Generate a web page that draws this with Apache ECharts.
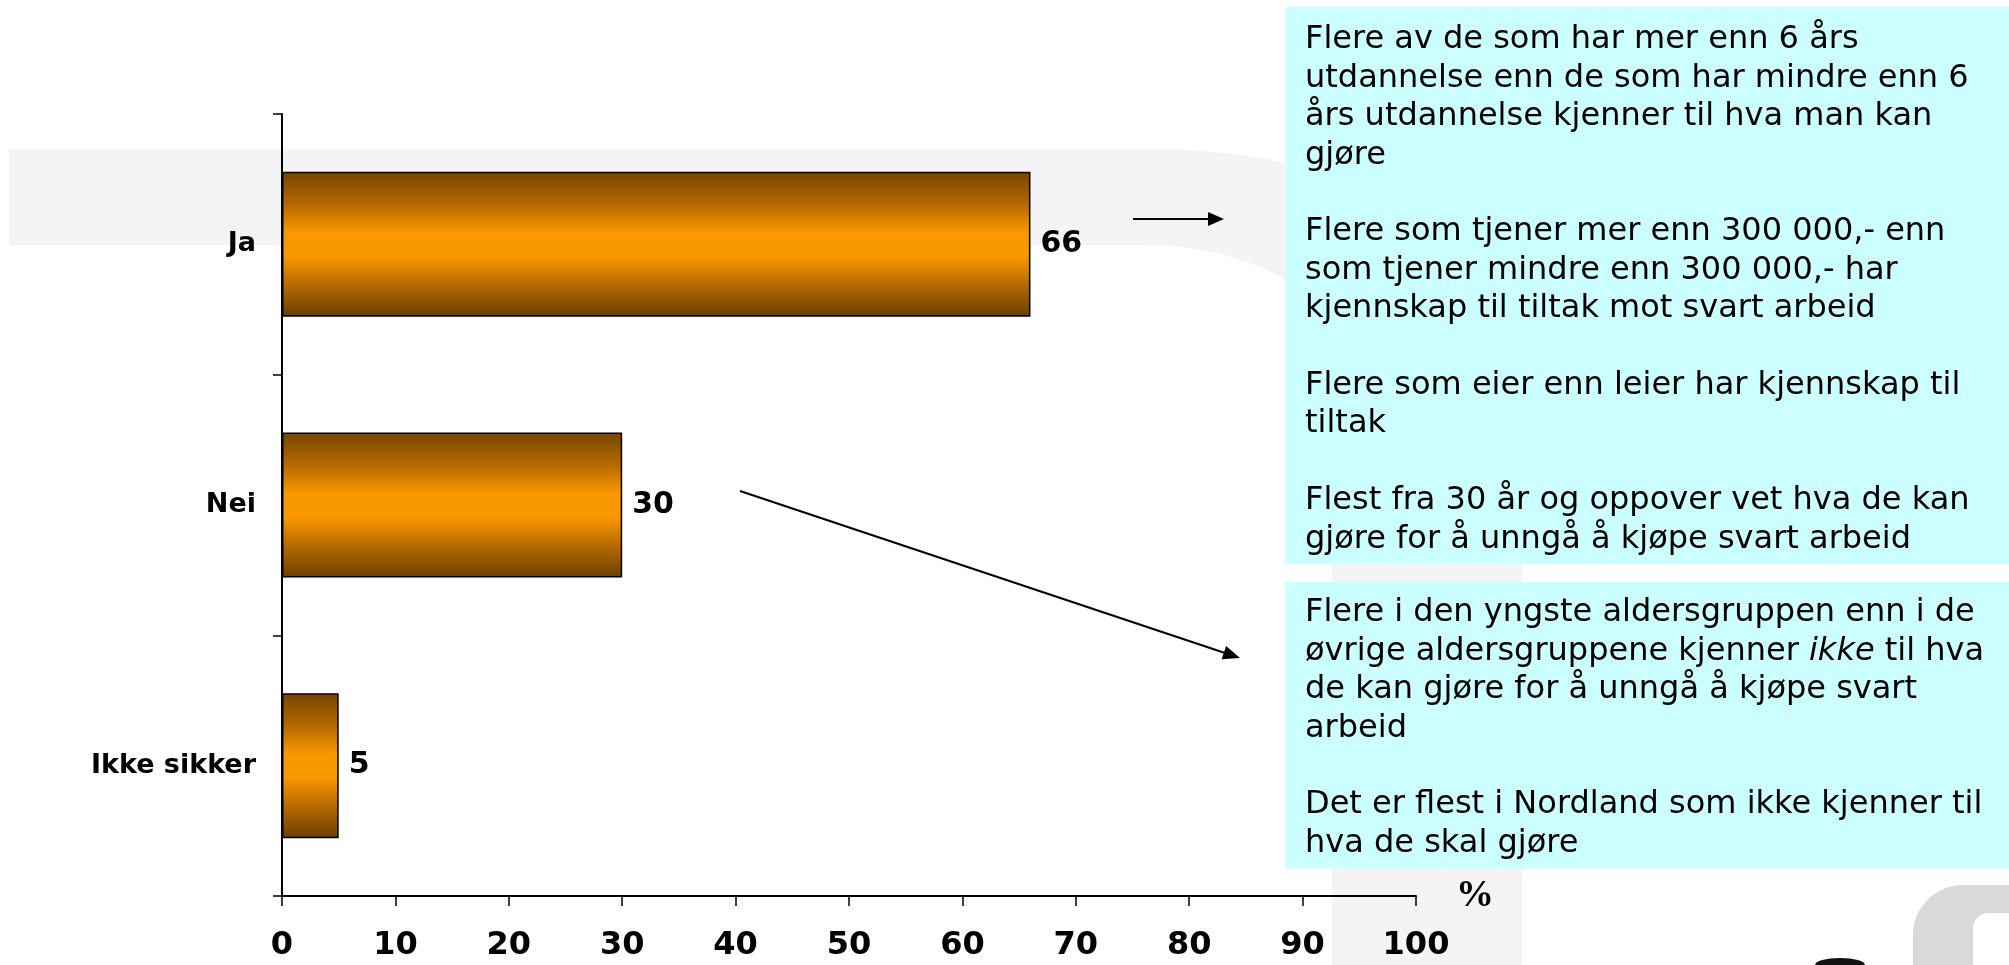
<!DOCTYPE html>
<html>
<head>
<meta charset="utf-8">
<script src="https://cdn.jsdelivr.net/npm/echarts@6/dist/echarts.min.js"></script>
<style>
  html, body { margin: 0; padding: 0; background: #ffffff; }
  #chart { width: 2009px; height: 965px; }
</style>
</head>
<body>
<div id="chart"></div>
<script>
// ---- data ----
const categories = ['Ja', 'Nei', 'Ikke sikker'];
const values = [66, 30, 5];
const xMin = 0, xMax = 100, xInterval = 10;
const axisUnit = '%';

const note1Lines = [
  'Flere av de som har mer enn 6 års',
  'utdannelse enn de som har mindre enn 6',
  'års utdannelse kjenner til hva man kan',
  'gjøre',
  '',
  'Flere som tjener mer enn 300 000,- enn',
  'som tjener mindre enn 300 000,- har',
  'kjennskap til tiltak mot svart arbeid',
  '',
  'Flere som eier enn leier har kjennskap til',
  'tiltak',
  '',
  'Flest fra 30 år og oppover vet hva de kan',
  'gjøre for å unngå å kjøpe svart arbeid'
];
const note2Lines = [
  'Flere i den yngste aldersgruppen enn i de',
  'øvrige aldersgruppene kjenner {it|ikke} til hva',
  'de kan gjøre for å unngå å kjøpe svart',
  'arbeid',
  '',
  'Det er flest i Nordland som ikke kjenner til',
  'hva de skal gjøre'
];

// ---- styling ----
const FONT = '"DejaVu Sans", Verdana, sans-serif';
const noteFont = 32;
const noteLH = 38.4;

const chart = echarts.init(document.getElementById('chart'), null, { renderer: 'canvas' });

const barGradient = {
  type: 'linear', x: 0, y: 0, x2: 0, y2: 1,
  colorStops: [
    { offset: 0, color: '#764500' },
    { offset: 0.22, color: '#b46800' },
    { offset: 0.42, color: '#fa9800' },
    { offset: 0.58, color: '#fa9800' },
    { offset: 0.80, color: '#b06600' },
    { offset: 1, color: '#6a3f00' }
  ]
};

function arrowHead(x1, y1, x2, y2, len, half) {
  const dx = x2 - x1, dy = y2 - y1;
  const d = Math.sqrt(dx * dx + dy * dy);
  const ux = dx / d, uy = dy / d;
  const bx = x2 - ux * len, by = y2 - uy * len;
  const px = -uy, py = ux;
  return [[x2, y2], [bx + px * half, by + py * half], [bx - px * half, by - py * half]];
}

// quarter-ellipse points (decorative background shape)
function quarter(cx, cy, rx, ry, a0, a1, n) {
  const pts = [];
  for (let i = 0; i <= n; i++) {
    const a = a0 + (a1 - a0) * i / n;
    pts.push([cx + rx * Math.cos(a), cy + ry * Math.sin(a)]);
  }
  return pts;
}
const watermarkPts = [[9, 149]]
  .concat(quarter(1150, 346, 372, 197, -Math.PI / 2, 0, 30))
  .concat([[1522, 965], [1332, 965]])
  .concat(quarter(1140, 344, 192, 99, 0, -Math.PI / 2, 30))
  .concat([[9, 245]]);
const logoPts = [[1913, 965]]
  .concat(quarter(1963, 935, 50, 50, Math.PI, Math.PI * 1.5, 16))
  .concat([[2009, 885], [2009, 913], [1988, 913]])
  .concat(quarter(1988, 928, 15, 15, -Math.PI / 2, -Math.PI, 10))
  .concat([[1973, 965]]);
const blobPts = [[1815, 965]]
  .concat(quarter(1840, 965, 25, 7, Math.PI, Math.PI * 2, 16));

const option = {
  backgroundColor: '#ffffff',
  animation: false,
  grid: { left: 282, right: 593, top: 114, bottom: 69, containLabel: false },
  xAxis: {
    type: 'value',
    min: xMin, max: xMax, interval: xInterval,
    name: axisUnit,
    nameLocation: 'end',
    nameGap: 40,
    nameTextStyle: {
      fontFamily: '"Liberation Serif", "Times New Roman", serif',
      fontWeight: 'bold', fontSize: 38, color: '#000',
      verticalAlign: 'middle', align: 'left'
    },
    axisLine: { show: true, lineStyle: { color: '#000', width: 2 } },
    axisTick: { show: true, length: 10, lineStyle: { color: '#000', width: 1.5 } },
    axisLabel: { fontFamily: FONT, fontWeight: 'bold', fontSize: 32, color: '#000', margin: 34 },
    splitLine: { show: false }
  },
  yAxis: {
    type: 'category',
    data: categories,
    inverse: true,
    axisLine: { show: true, lineStyle: { color: '#000', width: 2 } },
    axisTick: { show: true, length: 9, lineStyle: { color: '#000', width: 1.5 } },
    axisLabel: { fontFamily: FONT, fontWeight: 'bold', fontSize: 27, color: '#000', margin: 26 },
    splitLine: { show: false }
  },
  series: [{
    type: 'bar',
    data: values,
    barWidth: '55.6%',
    z: 3,
    itemStyle: { color: barGradient, borderColor: '#000', borderWidth: 1.5 },
    label: {
      show: true, position: 'right', distance: 10,
      fontFamily: FONT, fontWeight: 'bold', fontSize: 30, color: '#000'
    }
  }],
  graphic: [
    { type: 'polygon', z: -10, silent: true, shape: { points: watermarkPts }, style: { fill: '#f4f4f4' } },
    { type: 'polygon', z: -9, silent: true, shape: { points: logoPts }, style: { fill: '#d9d9dc' } },
    { type: 'polygon', z: -9, silent: true, shape: { points: blobPts }, style: { fill: '#111' } },
    {
      type: 'rect', z: 5, silent: true,
      shape: { x: 1285, y: 7, width: 724, height: 557 },
      style: { fill: '#ccffff' }
    },
    {
      type: 'rect', z: 5, silent: true,
      shape: { x: 1285, y: 582, width: 724, height: 287 },
      style: { fill: '#ccffff' }
    },
    {
      type: 'text', z: 6, silent: true,
      x: 1305, y: 40 - noteLH / 2,
      style: {
        text: note1Lines.join('\n'),
        fontFamily: FONT, fontSize: noteFont, lineHeight: noteLH,
        fill: '#000', verticalAlign: 'top', align: 'left'
      }
    },
    {
      type: 'text', z: 6, silent: true,
      x: 1305, y: 613 - noteLH / 2,
      style: {
        text: note2Lines.join('\n'),
        fontFamily: FONT, fontSize: noteFont, lineHeight: noteLH,
        fill: '#000', verticalAlign: 'top', align: 'left',
        rich: {
          it: { fontFamily: FONT, fontSize: noteFont, fontStyle: 'italic', lineHeight: noteLH, fill: '#000' }
        }
      }
    },
    {
      type: 'line', z: 6, silent: true,
      shape: { x1: 1133, y1: 219, x2: 1212, y2: 219 },
      style: { stroke: '#000', lineWidth: 2 }
    },
    {
      type: 'polygon', z: 6, silent: true,
      shape: { points: [[1224, 219], [1208, 212], [1208, 226]] },
      style: { fill: '#000' }
    },
    {
      type: 'line', z: 6, silent: true,
      shape: { x1: 740, y1: 491, x2: 1228, y2: 654 },
      style: { stroke: '#000', lineWidth: 2 }
    },
    {
      type: 'polygon', z: 6, silent: true,
      shape: { points: arrowHead(740, 491, 1240, 658, 17, 7) },
      style: { fill: '#000' }
    }
  ]
};

chart.setOption(option);
</script>
</body>
</html>
